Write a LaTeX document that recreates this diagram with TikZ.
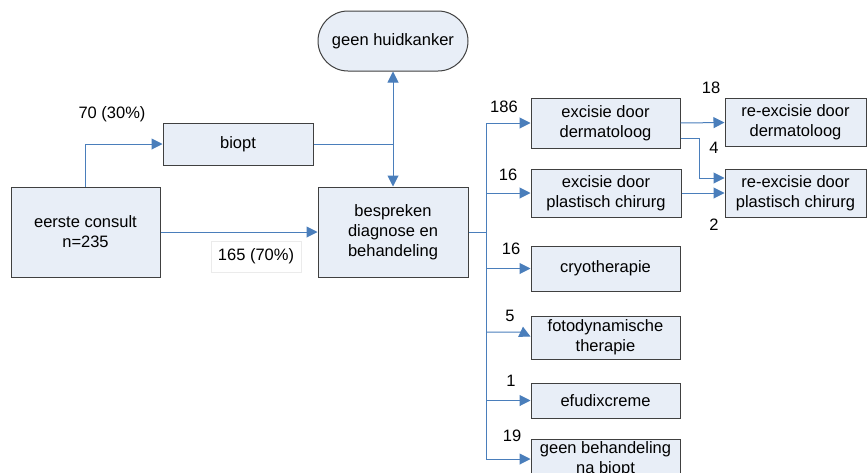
\documentclass[tikz,border=0pt]{standalone}
\usepackage{fontspec}
\setmainfont{Liberation Sans}
\usetikzlibrary{arrows.meta,calc}
\definecolor{boxfill}{RGB}{232,238,247}
\definecolor{boxline}{RGB}{64,64,64}
\definecolor{conn}{RGB}{74,126,187}
\tikzset{
  box/.style={draw=boxline, fill=boxfill, line width=1pt, align=center, inner sep=0pt,
    font=\fontsize{16.5}{20}\selectfont},
  lbl/.style={inner sep=0pt, font=\fontsize{16.5}{20}\selectfont},
  conn/.style={draw=conn, line width=1pt},
  arr/.style={conn, -{Triangle[length=11pt,width=11pt]}},
}
\begin{document}
\begin{tikzpicture}[x=1pt,y=-1pt]
\useasboundingbox (0,0) rectangle (867,472);
\begin{scope}
\clip (0,0) rectangle (867,472);
% nodes
\node[box, minimum width=150pt, minimum height=60pt, rounded corners=30pt] (huid) at (393,41) {geen huidkanker};
\node[box, minimum width=150pt, minimum height=42pt] (biopt) at (238,144) {biopt};
\node[box, minimum width=149pt, minimum height=90pt] (eerste) at (85.5,232) {eerste consult\\n=235};
\node[box, minimum width=150pt, minimum height=90pt] (bespr) at (393,232) {bespreken\\diagnose en\\behandeling};
\node[box, minimum width=149pt, minimum height=50pt] (exder) at (605.5,123) {excisie door\\dermatoloog};
\node[box, minimum width=150pt, minimum height=48pt] (expl) at (606,193) {excisie door\\plastisch chirurg};
\node[box, minimum width=149pt, minimum height=45pt] (cryo) at (605.5,268.5) {cryotherapie};
\node[box, minimum width=149pt, minimum height=43pt] (foto) at (605.5,337.5) {fotodynamische\\therapie};
\node[box, minimum width=149pt, minimum height=35pt] (efu) at (605.5,400.5) {efudixcreme};
\node[box, minimum width=149pt, minimum height=40pt] (geen) at (605.5,459) {geen behandeling\\na biopt};
\node[box, minimum width=141pt, minimum height=48pt] (reder) at (795.5,122.5) {re-excisie door\\dermatoloog};
\node[box, minimum width=141pt, minimum height=48pt] (repl) at (795.5,193) {re-excisie door\\plastisch chirurg};
% labels
\node[lbl] (l70) at (112,114) {70 (30\%)};
\node[lbl, draw=black!8, fill=white, minimum width=90pt, minimum height=31pt] (l165) at (256,256.5) {165 (70\%)};
\node[lbl] (n186) at (504,107) {186};
\node[lbl] (n16a) at (508,175) {16};
\node[lbl] (n16b) at (511,249) {16};
\node[lbl] (n5) at (510,315.5) {5};
\node[lbl] (n1) at (511,381) {1};
\node[lbl] (n19) at (512,436) {19};
\node[lbl] (n18) at (711,88) {18};
\node[lbl] (n4) at (714,148) {4};
\node[lbl] (n2) at (714,225) {2};
% coordinates
\coordinate (ttop) at (486,123);
\coordinate (tbot) at (486,459);
\coordinate (tmid) at (486,232);
% connectors
\draw[arr] (eerste.north) |- (biopt.west);
\draw[arr] (eerste.east) -- (bespr.west);
\draw[conn] (biopt.east) -- (bespr.north |- biopt.east);
\draw[conn, {Triangle[length=11pt,width=11pt]}-{Triangle[length=11pt,width=11pt]}] (huid.south) -- (bespr.north);
\draw[conn] (bespr.east) -- (tmid);
\draw[conn] (ttop) -- (tbot);
\draw[arr] (ttop) -- (exder.west);
\draw[arr] (ttop |- expl.west) -- (expl.west);
\draw[arr] (ttop |- cryo.west) -- (cryo.west);
\draw[arr] (486,332) -- (521,332) -- ($(foto.north west)+(0,21)$);
\draw[arr] (ttop |- efu.west) -- (efu.west);
\draw[arr] (tbot) -- (geen.west |- tbot);
\draw[arr] (exder.east) -- (reder.west);
\draw[arr] ($(exder.south east)+(0,-10)$) -- ++(19,0) |- ($(repl.west)+(0,-15)$);
\draw[arr] (expl.east) -- (repl.west);
\end{scope}
\end{tikzpicture}
\end{document}
